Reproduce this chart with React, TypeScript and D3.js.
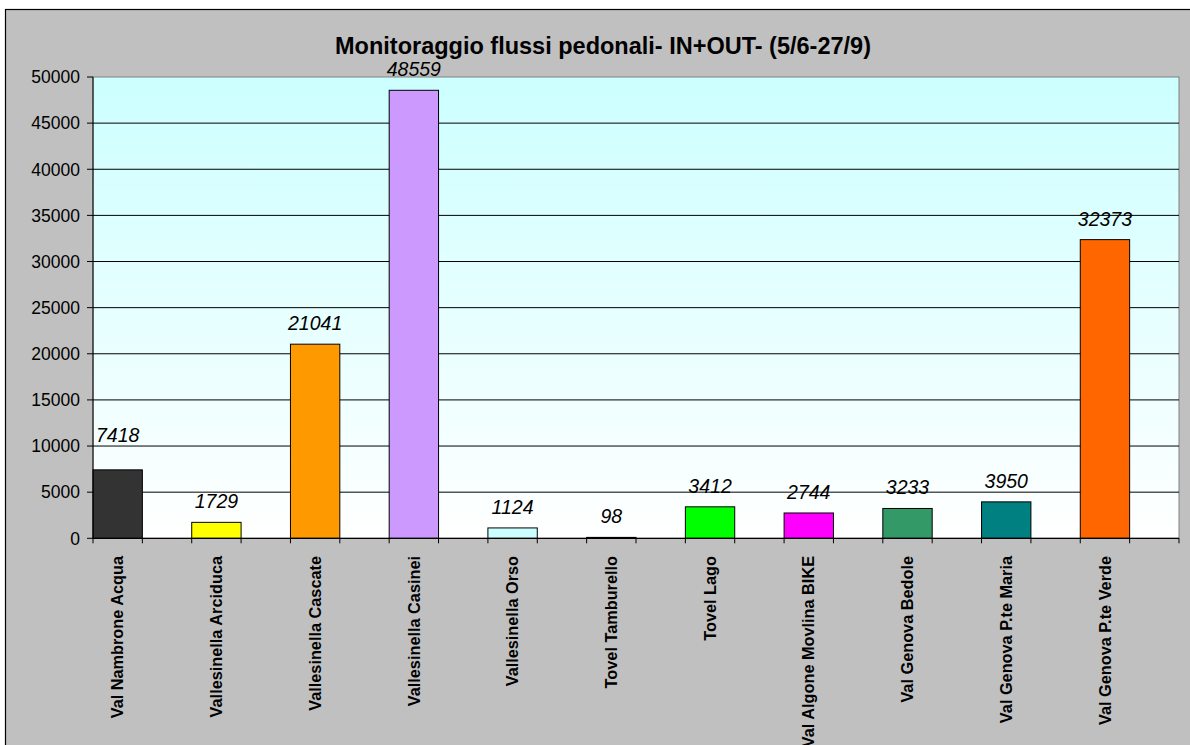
import React from "react";
import * as d3 from "d3";

const categories = [
  "Val Nambrone Acqua",
  "Vallesinella Arciduca",
  "Vallesinella Cascate",
  "Vallesinella Casinei",
  "Vallesinella Orso",
  "Tovel Tamburello",
  "Tovel Lago",
  "Val Algone Movlina BIKE",
  "Val Genova Bedole",
  "Val Genova P.te Maria",
  "Val Genova P.te Verde",
];
const values = [7418, 1729, 21041, 48559, 1124, 98, 3412, 2744, 3233, 3950, 32373];
const barColors = [
  "#333333", "#ffff00", "#ff9900", "#cc99ff", "#ccffff", "#000000",
  "#00ff00", "#ff00ff", "#339966", "#008080", "#ff6600",
];
const yTicks = [0, 5000, 10000, 15000, 20000, 25000, 30000, 35000, 40000, 45000, 50000];
const title = "Monitoraggio flussi pedonali- IN+OUT- (5/6-27/9)";
// extra upward shift of individual data labels (manually moved in the original)
const labelExtraLift = [14, 0, 0, 0, 0, 0, 0, 0, 0, 0, 0];

const W = 1190;
const H = 745;
const plot = { left: 93, top: 77, right: 1179, bottom: 538.3 };

export default function App() {
  const x = d3
    .scaleBand<number>()
    .domain(d3.range(categories.length))
    .range([plot.left, plot.right])
    .padding(0);
  const step = x.step();
  const barW = step / 2;
  const y = d3.scaleLinear().domain([0, 50000]).range([plot.bottom, plot.top]);
  const minorTicks = d3.range(categories.length * 2 + 1).map((k) => plot.left + (k * step) / 2);
  const font = "'Liberation Sans', Arial, sans-serif";

  return (
    <svg
      width={W}
      height={H}
      style={{ position: "absolute", left: 0, top: 0, display: "block" }}
      fontFamily={font}
    >
      <defs>
        <linearGradient id="plotbg" x1="0" y1="0" x2="0" y2="1">
          <stop offset="0" stopColor="#ccffff" />
          <stop offset="1" stopColor="#ffffff" />
        </linearGradient>
      </defs>
      <rect x={0} y={0} width={W} height={H} fill="#ffffff" />
      <rect x={5.5} y={9.5} width={W + 10} height={H + 10} fill="#c0c0c0" stroke="#000" strokeWidth={1.2} />

      <text x={603} y={54} textAnchor="middle" fontSize={23.5} fontWeight="bold" fill="#000">
        {title}
      </text>

      <rect
        x={plot.left}
        y={plot.top}
        width={plot.right - plot.left}
        height={plot.bottom - plot.top}
        fill="url(#plotbg)"
        stroke="#808080"
        strokeWidth={1}
      />

      {yTicks.slice(1, -1).map((t) => (
        <line key={t} x1={plot.left} x2={plot.right} y1={y(t)} y2={y(t)} stroke="#000" strokeWidth={1} />
      ))}

      {values.map((v, i) => (
        <rect
          key={i}
          x={x(i)!}
          y={y(v)}
          width={barW}
          height={Math.max(plot.bottom - y(v), 0.5)}
          fill={barColors[i]}
          stroke="#000"
          strokeWidth={1}
        />
      ))}

      {values.map((v, i) => (
        <text
          key={i}
          x={x(i)! + barW / 2}
          y={y(v) - 14 - labelExtraLift[i]}
          textAnchor="middle"
          fontSize={19.5}
          fontStyle="italic"
          fill="#000"
        >
          {v}
        </text>
      ))}

      <line x1={plot.left} x2={plot.left} y1={plot.top} y2={plot.bottom} stroke="#000" strokeWidth={1} />
      <line x1={plot.left} x2={plot.right} y1={plot.bottom} y2={plot.bottom} stroke="#000" strokeWidth={1.2} />

      {yTicks.map((t) => (
        <g key={t}>
          <line x1={plot.left - 6} x2={plot.left} y1={y(t)} y2={y(t)} stroke="#000" strokeWidth={1} />
          <text x={80} y={y(t)} dy="0.36em" textAnchor="end" fontSize={17.5} fill="#000">
            {t}
          </text>
        </g>
      ))}

      {minorTicks.map((tx, k) => (
        <line key={k} x1={tx} x2={tx} y1={plot.bottom} y2={plot.bottom + 5} stroke="#000" strokeWidth={1} />
      ))}

      {categories.map((c, i) => {
        const cx = x(i)! + barW / 2;
        return (
          <text
            key={c}
            transform={`translate(${cx},556) rotate(-90)`}
            dy="0.35em"
            textAnchor="end"
            fontSize={16.3}
            fontWeight="bold"
            fill="#000"
          >
            {c}
          </text>
        );
      })}
    </svg>
  );
}
